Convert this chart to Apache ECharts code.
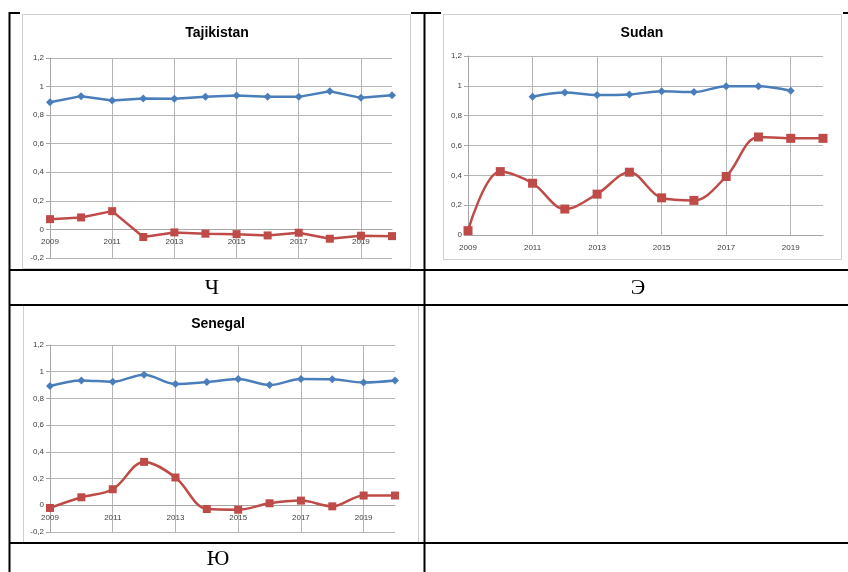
<!DOCTYPE html>
<html><head><meta charset="utf-8">
<script src="https://cdn.jsdelivr.net/npm/echarts@6/dist/echarts.min.js"></script>
<style>html,body{margin:0;padding:0;background:#fff;}#c{width:848px;height:572px;}</style>
</head><body><div id="c"></div>
<script>
const years = ['2009','2010','2011','2012','2013','2014','2015','2016','2017','2018','2019','2020'];
const titles = ['Tajikistan','Sudan','Senegal'];
const cellLabels = ['Ч','Э','Ю'];
const tajBlue = [0.89,0.933,0.902,0.916,0.914,0.928,0.937,0.928,0.928,0.967,0.921,0.94];
const tajRed  = [0.072,0.084,0.128,-0.053,-0.021,-0.03,-0.033,-0.042,-0.023,-0.065,-0.044,-0.047];
const sudBlue = [null,null,0.927,0.955,0.938,0.942,0.964,0.958,0.998,0.998,0.967,null];
const sudRed  = [0.029,0.425,0.347,0.174,0.274,0.421,0.249,0.232,0.392,0.657,0.648,0.648];
const senBlue = [0.893,0.935,0.925,0.978,0.908,0.923,0.945,0.9,0.945,0.943,0.92,0.935];
const senRed  = [-0.02,0.06,0.12,0.325,0.208,-0.028,-0.033,0.015,0.035,-0.008,0.073,0.073];

const BLUE = '#4a7ebb', RED = '#be4b48', GRID = '#b5b5b5', AX = '#a6a6a6', LBL = '#404040';
const grids = [
  {left:50, width:342, top:58, height:200},
  {left:468, width:355, top:56, height:179},
  {left:50, width:345, top:345, height:187}
];
const yRanges = [[-0.2,1.2],[0,1.2],[-0.2,1.2]];
// x axis sits on the zero line: shift it up by the pixel height of the part below zero
const zeroShift = grids.map((g,i)=> -Math.round(g.height * (0 - yRanges[i][0]) / (yRanges[i][1] - yRanges[i][0])));
const fmt = v => String(+(+v).toFixed(1)).replace('.', ',');

const xAxis = grids.map((g,i)=>({
  type:'category', gridIndex:i, data:years, boundaryGap:false, position:'bottom', offset:zeroShift[i],
  axisLine:{show:true,onZero:false,lineStyle:{color:AX,width:1}},
  axisTick:{show:false},
  axisLabel:{interval:1,fontSize:8,color:LBL,fontFamily:'Liberation Sans',margin:9},
  splitLine:{show:true,interval:1,lineStyle:{color:GRID,width:1}}
}));
const yAxis = grids.map((g,i)=>({
  type:'value', gridIndex:i, min:yRanges[i][0], max:yRanges[i][1], interval:0.2,
  axisLine:{show:true,onZero:false,lineStyle:{color:AX,width:1}},
  axisTick:{show:true,length:4,lineStyle:{color:AX}},
  axisLabel:{formatter:fmt,fontSize:8,color:LBL,fontFamily:'Liberation Sans',margin:6},
  splitLine:{show:true,lineStyle:{color:GRID,width:1}}
}));
const mk = (data, i, color, sym, size, smooth) => ({
  type:'line', xAxisIndex:i, yAxisIndex:i, data, smooth, connectNulls:false,
  symbol:sym, symbolSize:size, showSymbol:true,
  itemStyle:{color}, lineStyle:{color,width:2.5}, animation:false, z:3
});
const series = [
  mk(tajBlue,0,BLUE,'diamond',8,false), mk(tajRed,0,RED,'rect',8,false),
  mk(sudBlue,1,BLUE,'diamond',8,0.35), mk(sudRed,1,RED,'rect',9,0.35),
  mk(senBlue,2,BLUE,'diamond',8,0.35), mk(senRed,2,RED,'rect',8,0.35)
];

const line = (x1,y1,x2,y2,w) => ({type:'line',shape:{x1,y1,x2,y2},style:{stroke:'#000',lineWidth:w||2},z:10});
const frame = (x,y,w,h) => ({type:'rect',shape:{x,y,width:w,height:h},style:{fill:null,stroke:'#cfcfcf',lineWidth:1},z:1});
const txt = (x,y,t,font) => ({type:'text',x,y,style:{text:t,font,fill:'#000',textAlign:'center',textVerticalAlign:'middle'},z:10});

const graphic = [
  frame(22.5,14.5,388,254), frame(443.5,14.5,398,245), frame(23.5,305.5,395,237),
  line(9,13,20,13), line(411,13,441,13), line(843,13,848,13),
  line(9.5,12,9.5,572), line(424.5,12,424.5,572),
  line(9,270,848,270), line(9,305,848,305), line(9,543,848,543),
  txt(217,33,titles[0],'bold 14px "Liberation Sans"'),
  txt(642,33,titles[1],'bold 14px "Liberation Sans"'),
  txt(218,324,titles[2],'bold 14px "Liberation Sans"'),
  txt(212,288,cellLabels[0],'22px "Liberation Serif"'),
  txt(638,288,cellLabels[1],'22px "Liberation Serif"'),
  txt(218,559,cellLabels[2],'22px "Liberation Serif"')
];

const chart = echarts.init(document.getElementById('c'));
chart.setOption({animation:false, grid:grids, xAxis, yAxis, series, graphic});
</script></body></html>
